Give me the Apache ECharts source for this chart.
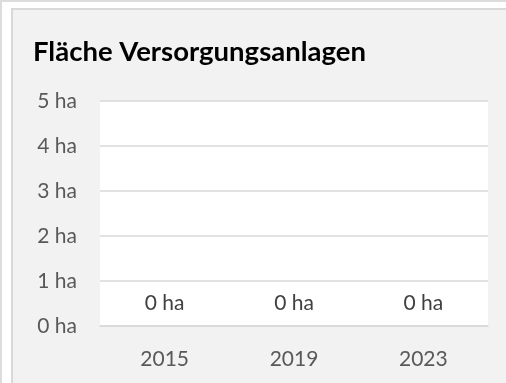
<!DOCTYPE html>
<html>
<head>
<meta charset="utf-8">
<script src="https://cdn.jsdelivr.net/npm/echarts@6/dist/echarts.min.js"></script>
<style>
  html, body { margin: 0; padding: 0; background: #ffffff; }
  #chart { width: 506px; height: 383px; }
</style>
</head>
<body>
<div id="chart"></div>
<script>
// Flächenentwicklung der Versorgungsanlagen nach Erhebungsjahr
const years = ['2015', '2019', '2023'];
const areaHa = [0, 0, 0];
const yTicks = [0, 1, 2, 3, 4, 5];

const FONT = 'Lato, "Open Sans", sans-serif';
const chart = echarts.init(document.getElementById('chart'), null, { renderer: 'canvas' });

chart.setOption({
  backgroundColor: '#ffffff',
  animation: false,
  graphic: [
    // outer frame lines
    { type: 'rect', shape: { x: 0, y: 0, width: 506, height: 2 }, style: { fill: '#dcdcdc' }, silent: true },
    { type: 'rect', shape: { x: 0, y: 0, width: 2, height: 383 }, style: { fill: '#dcdcdc' }, silent: true },
    // card panel
    { type: 'rect', shape: { x: 12, y: 9, width: 500, height: 380 },
      style: { fill: '#f2f2f2', stroke: '#d9d9d9', lineWidth: 2 }, silent: true, z: -1 }
  ],
  title: {
    text: 'Fläche Versorgungsanlagen',
    left: 33, top: 38, padding: 0,
    textStyle: { fontFamily: FONT, fontWeight: 'bold', fontSize: 27.5, color: '#000000' }
  },
  grid: { left: 100, right: 18, top: 101, bottom: 57, backgroundColor: '#ffffff', show: true, borderWidth: 0 },
  xAxis: {
    type: 'category',
    data: years,
    axisLine: { show: true, lineStyle: { color: '#d9d9d9', width: 1.5 } },
    axisTick: { show: false },
    axisLabel: { margin: 23, color: '#595959', fontFamily: FONT, fontSize: 21 }
  },
  yAxis: {
    type: 'value',
    min: 0, max: yTicks[yTicks.length - 1], interval: 1,
    axisLine: { show: false },
    axisTick: { show: false },
    splitLine: { lineStyle: { color: '#d9d9d9', width: 1.5 } },
    axisLabel: { margin: 23, color: '#595959', fontFamily: FONT, fontSize: 21,
      formatter: v => v + ' ha' }
  },
  series: [{
    type: 'bar',
    data: areaHa,
    barWidth: '50%',
    itemStyle: { color: '#4472c4' },
    label: {
      show: true, position: 'top', distance: 12,
      color: '#404040', fontFamily: FONT, fontSize: 21,
      formatter: p => p.value + ' ha'
    }
  }]
});
</script>
</body>
</html>
